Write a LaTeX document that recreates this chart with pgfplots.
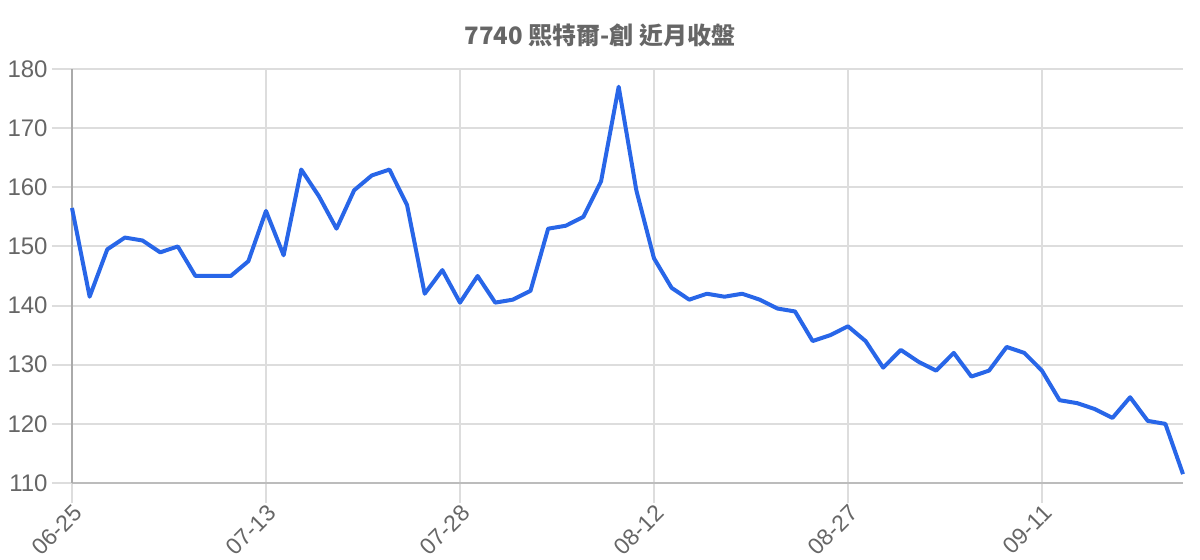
\documentclass[border=0pt]{standalone}
\usepackage{fontspec}
\setmainfont{Liberation Sans}
\newfontfamily\cjk{Noto Sans CJK TC}
\usepackage{pgfplots}
\pgfplotsset{compat=1.18}
\definecolor{lineblue}{RGB}{40,102,232}
\definecolor{gridgray}{RGB}{221,221,221}
\definecolor{axgray}{RGB}{170,170,170}
\definecolor{txtgray}{RGB}{102,102,102}

\begin{document}
\begin{tikzpicture}
\begin{axis}[
    at={(0,0)}, anchor=south west,
    scale only axis,
    width=555.5pt, height=207pt,
    xmin=0, xmax=63,
    ymin=110, ymax=180,
    xtick={0,11,22,33,44,55},
    xticklabels={06-25,07-13,07-28,08-12,08-27,09-11},
    ytick={110,120,...,180},
    axis x line*=bottom,
    axis y line*=left,
    x axis line style={draw=gridgray!85!black, line width=1.2pt, -},
    y axis line style={draw=axgray, line width=1pt, -},
    tick align=outside,
    major tick length=10pt,
    tick style={draw=gridgray, line width=1pt},
    grid=major,
    major grid style={draw=gridgray, line width=1pt},
    ticklabel style={text=txtgray},
    yticklabel style={font=\fontsize{12}{14}\selectfont, inner sep=2pt},
    /pgf/number format/assume math mode=true,
    xticklabel style={font=\fontsize{11.5}{13}\selectfont, rotate=45, anchor=north east, inner sep=0pt},
    clip=false,
]
\addplot[lineblue, line width=2pt, line join=round] table {
x y
0 156.5
1 141.5
2 149.5
3 151.5
4 151
5 149
6 150
7 145
8 145
9 145
10 147.5
11 156
12 148.5
13 163
14 158.5
15 153
16 159.5
17 162
18 163
19 157
20 142
21 146
22 140.5
23 145
24 140.5
25 141
26 142.5
27 153
28 153.5
29 155
30 161
31 177
32 159.5
33 148
34 143
35 141
36 142
37 141.5
38 142
39 141
40 139.5
41 139
42 134
43 135
44 136.5
45 134
46 129.5
47 132.5
48 130.5
49 129
50 132
51 128
52 129
53 133
54 132
55 129
56 124
57 123.5
58 122.5
59 121
60 124.5
61 120.5
62 120
63 111.5
};
\end{axis}
\node[text=txtgray, font=\cjk\bfseries\fontsize{12}{14}\selectfont] at (264pt,224pt) {7740 熙特爾-創 近月收盤};
\pgfresetboundingbox
\path[use as bounding box] (-36pt,-38.5pt) rectangle (564pt,241.5pt);
\end{tikzpicture}
\end{document}
